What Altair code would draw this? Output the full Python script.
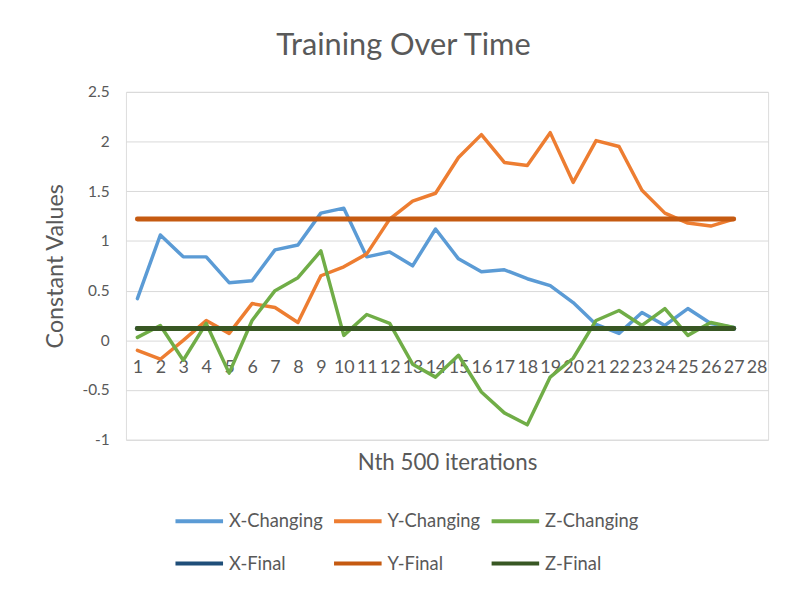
import altair as alt
import pandas as pd

iterations = list(range(1, 28))
x_categories = list(range(1, 29))

x_changing = [0.42, 1.06, 0.84, 0.84, 0.58, 0.60, 0.91, 0.96, 1.28, 1.33,
              0.84, 0.89, 0.75, 1.12, 0.82, 0.69, 0.71, 0.62, 0.55, 0.38,
              0.16, 0.07, 0.28, 0.15, 0.32, 0.17, 0.13]
y_changing = [-0.10, -0.19, 0.00, 0.20, 0.07, 0.37, 0.33, 0.18, 0.65, 0.74,
              0.87, 1.22, 1.40, 1.48, 1.84, 2.07, 1.79, 1.76, 2.09, 1.59,
              2.01, 1.95, 1.51, 1.28, 1.18, 1.15, 1.22]
z_changing = [0.03, 0.15, -0.20, 0.17, -0.33, 0.20, 0.50, 0.63, 0.90, 0.05,
              0.26, 0.17, -0.24, -0.37, -0.15, -0.52, -0.73, -0.85, -0.37, -0.18,
              0.20, 0.30, 0.15, 0.32, 0.05, 0.18, 0.13]
x_final = 0.12
y_final = 1.22
z_final = 0.12

series_names = ["X-Changing", "Y-Changing", "Z-Changing", "X-Final", "Y-Final", "Z-Final"]
series_colors = ["#5B9BD5", "#ED7D31", "#70AD47", "#1F4E79", "#C55A11", "#385723"]
y_ticks = [-1, -0.5, 0, 0.5, 1, 1.5, 2, 2.5]

rows = []
for name, vals in zip(series_names[:3], [x_changing, y_changing, z_changing]):
    for i, v in zip(iterations, vals):
        rows.append({"iter": i, "value": v, "series": name, "kind": "changing"})
for name, v in zip(series_names[3:], [x_final, y_final, z_final]):
    for i in iterations:
        rows.append({"iter": i, "value": v, "series": name, "kind": "final"})
df = pd.DataFrame(rows)

FONT = "Lato"
GREY = "#595959"

color = alt.Color(
    "series:N",
    scale=alt.Scale(domain=series_names, range=series_colors),
    legend=alt.Legend(
        title=None, orient="none", legendX=52, legendY=411, columns=3,
        direction="horizontal",
        symbolType="M-1.2,0H1.2", symbolSize=1600, symbolStrokeWidth=4,
        labelOffset=8, labelFontSize=18.5, labelFont=FONT, labelColor=GREY,
        columnPadding=3, rowPadding=11, labelLimit=200,
    ),
    sort=series_names,
)

x_enc = alt.X(
    "iter:O",
    scale=alt.Scale(domain=x_categories),
    axis=alt.Axis(
        title="Nth 500 iterations", titleFont=FONT, titleFontSize=22.5, titleColor=GREY,
        titleFontWeight="normal", titleY=123, titleBaseline="middle",
        labelAngle=0, labelOverlap=False, labelFont=FONT, labelFontSize=18,
        labelColor=GREY, labelPadding=18, offset=-100, domain=False, ticks=False,
        grid=False,
    ),
)
y_enc = alt.Y(
    "value:Q",
    scale=alt.Scale(domain=[-1, 2.5], nice=False, zero=False),
    axis=alt.Axis(
        values=y_ticks, labelExpr="'' + datum.value", title="Constant Values",
        titleFont=FONT, titleFontSize=23.5, titleColor=GREY, titleFontWeight="normal",
        titleAngle=270, titleX=-71, titleY=175.5, titleAlign="center",
        titleBaseline="middle", labelFont=FONT, labelFontSize=15.5, labelColor=GREY,
        labelPadding=17, domain=False, ticks=False, grid=True,
        gridColor="#D9D9D9", gridWidth=1,
    ),
)

base = alt.Chart(df).encode(x=x_enc, y=y_enc, color=color, detail="series:N")
changing = base.transform_filter(alt.datum.kind == "changing").mark_line(
    strokeWidth=3.5, strokeJoin="round", strokeCap="round")
final = base.transform_filter(alt.datum.kind == "final").mark_line(
    strokeWidth=5, strokeCap="round")

chart = alt.layer(changing, final).properties(
    width=648, height=351,
    title=alt.TitleParams("Training Over Time", font=FONT, fontSize=31, color=GREY,
                          fontWeight="normal", dx=-44, offset=23),
    autosize=alt.AutoSizeParams(type="none"),
    padding={"left": 119, "top": 82, "right": 10, "bottom": 150},
).configure_view(stroke=None).configure(background="white")

chart.save("out.html", embed_options={"renderer": "svg", "actions": False})
